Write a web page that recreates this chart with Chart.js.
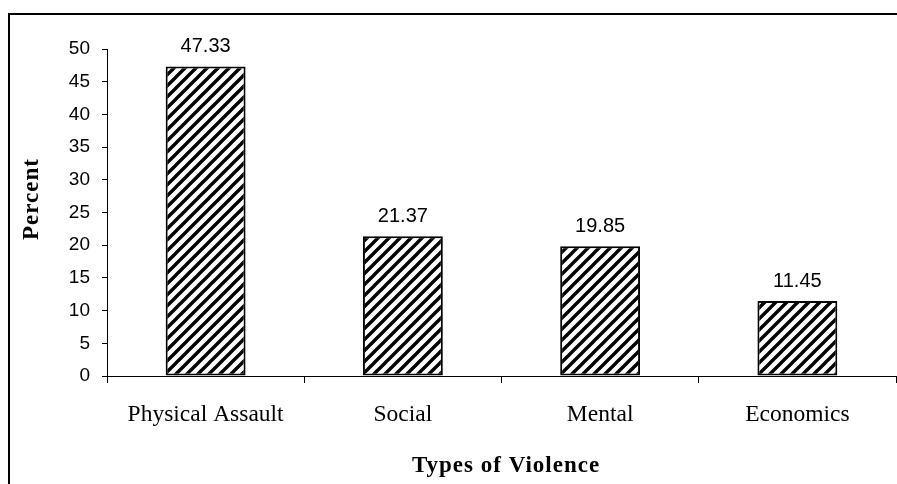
<!DOCTYPE html>
<html>
<head>
<meta charset="utf-8">
<title>Types of Violence</title>
<script src="https://cdn.jsdelivr.net/npm/chart.js@4/dist/chart.umd.min.js"></script>
<style>
  html, body { margin: 0; padding: 0; background: #fff; }
  #wrap { width: 897px; height: 484px; position: relative; }
</style>
</head>
<body>
<div id="wrap"><canvas id="chart" width="897" height="484"></canvas></div>
<script>
// Data
const categories = ['Physical Assault', 'Social', 'Mental', 'Economics'];
const percentValues = [47.33, 21.37, 19.85, 11.45];
const yTickMin = 0;
const yTickMax = 50;
const yTickStep = 5;
const xAxisTitle = 'Types of Violence';
const yAxisTitle = 'Percent';

// Diagonal hatch fill for the bars
function makeHatch() {
  const s = 11;
  const c = document.createElement('canvas');
  c.width = s; c.height = s;
  const g = c.getContext('2d');
  g.fillStyle = '#ffffff';
  g.fillRect(0, 0, s, s);
  g.strokeStyle = '#000000';
  g.lineWidth = 3.4;
  g.lineCap = 'square';
  g.beginPath();
  g.moveTo(-2, s + 2); g.lineTo(s + 2, -2);
  g.moveTo(-3, 3); g.lineTo(3, -3);
  g.moveTo(s - 3, s + 3); g.lineTo(s + 3, s - 3);
  g.stroke();
  return g.createPattern(c, 'repeat');
}

const SERIF = '"Liberation Serif", "Times New Roman", serif';
const SANS = '"Liberation Sans", Arial, sans-serif';

// Outer frame, axis titles and value labels
const decorations = {
  id: 'decorations',
  afterDatasetsDraw(chart) {
    const ctx = chart.ctx;
    ctx.save();
    ctx.fillStyle = '#000';
    ctx.fillRect(8, 13, 2, 480);
    ctx.fillRect(8, 13, 900, 2);

    // value labels above the bars
    ctx.font = '20px ' + SANS;
    ctx.textAlign = 'center';
    ctx.textBaseline = 'alphabetic';
    const meta = chart.getDatasetMeta(0);
    meta.data.forEach((bar, i) => {
      ctx.fillText(percentValues[i].toFixed(2), bar.x, bar.y - 14.5);
    });

    // axis titles
    ctx.font = 'bold 23px ' + SERIF;
    ctx.letterSpacing = '1px';
    ctx.textBaseline = 'middle';
    ctx.fillText(xAxisTitle, 506, 466);
    ctx.translate(32, 199);
    ctx.rotate(-Math.PI / 2);
    ctx.fillText(yAxisTitle, 0, 0);
    ctx.restore();
  }
};

new Chart(document.getElementById('chart'), {
  type: 'bar',
  data: {
    labels: categories,
    datasets: [{
      data: percentValues,
      backgroundColor: makeHatch(),
      borderColor: '#000',
      borderWidth: 2,
      borderSkipped: false,
      barPercentage: 0.405,
      categoryPercentage: 1.0
    }]
  },
  options: {
    responsive: false,
    animation: false,
    devicePixelRatio: 1,
    layout: { padding: { top: 49, right: 1, left: 0, bottom: 0 } },
    plugins: {
      legend: { display: false },
      tooltip: { enabled: false },
      title: { display: false }
    },
    scales: {
      x: {
        offset: true,
        grid: {
          display: true,
          offset: true,
          drawOnChartArea: false,
          tickLength: 7,
          color: '#000',
          lineWidth: 1
        },
        border: { display: true, color: '#000', width: 1 },
        ticks: {
          color: '#000',
          font: { family: SERIF, size: 23.5 },
          padding: 18,
          maxRotation: 0
        },
        afterFit(scale) { scale.height = 108; }
      },
      y: {
        min: yTickMin,
        max: yTickMax,
        grid: {
          display: true,
          drawOnChartArea: false,
          tickLength: 5,
          color: '#000',
          lineWidth: 1
        },
        border: { display: true, color: '#000', width: 1 },
        ticks: {
          stepSize: yTickStep,
          color: '#000',
          font: { family: SANS, size: 19 },
          padding: 12
        },
        afterFit(scale) { scale.width = 107; }
      }
    }
  },
  plugins: [decorations]
});
</script>
</body>
</html>
